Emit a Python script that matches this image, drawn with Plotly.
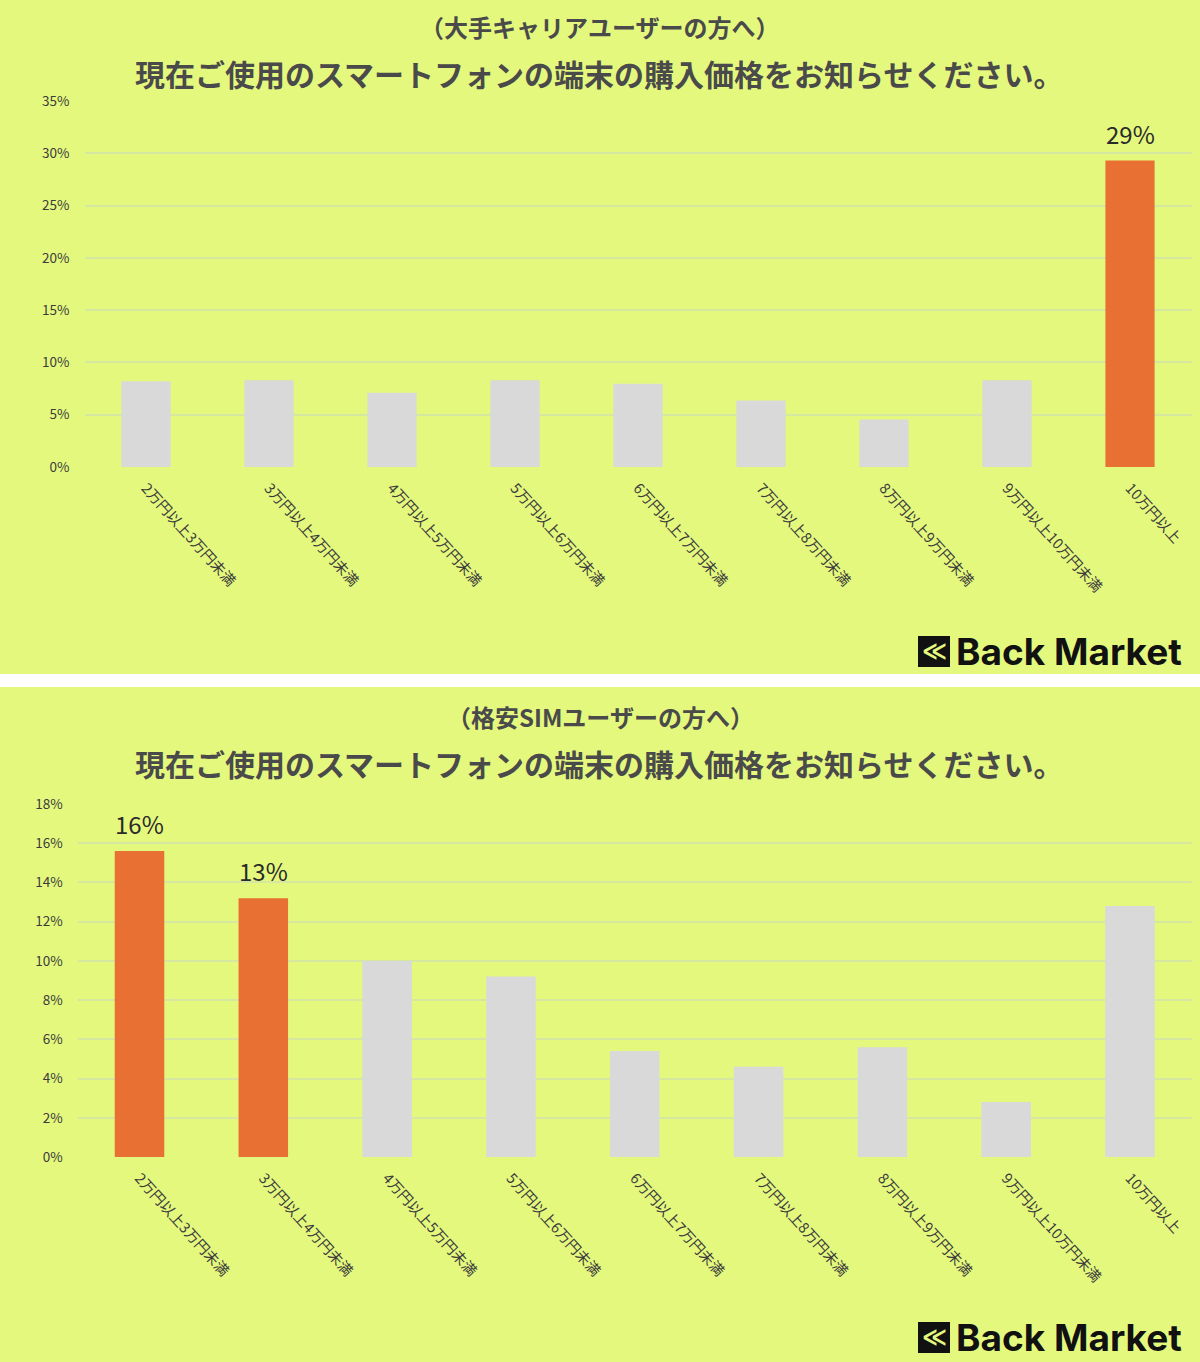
import plotly.graph_objects as go

categories = ["2万円以上3万円未満", "3万円以上4万円未満", "4万円以上5万円未満", "5万円以上6万円未満",
              "6万円以上7万円未満", "7万円以上8万円未満", "8万円以上9万円未満", "9万円以上10万円未満", "10万円以上"]
carrier_values = [8.2, 8.3, 7.1, 8.3, 7.95, 6.35, 4.55, 8.3, 29.3]
carrier_highlight = [False, False, False, False, False, False, False, False, True]
mvno_values = [15.6, 13.2, 10.0, 9.2, 5.4, 4.6, 5.6, 2.8, 12.8]
mvno_highlight = [True, True, False, False, False, False, False, False, False]

top_subtitle = "（大手キャリアユーザーの方へ）"
bottom_subtitle = "（格安SIMユーザーの方へ）"
main_title = "現在ご使用のスマートフォンの端末の購入価格をお知らせください。"
logo_text = "Back Market"

W, H = 1200, 1362
LIME = "#E4F87E"
ORANGE = "#E97033"
GRAY = "#D9D9D9"
GRID = "#D6E7A2"
TEXT = "#3C3C3C"
FONT = "Noto Sans CJK JP"

def py(y):
    return 1 - y / H

def px(x):
    return x / W

fig = go.Figure()
ann = []

def add_bars(values, highlight, xa, ya):
    colors = [ORANGE if h else GRAY for h in highlight]
    fig.add_trace(go.Bar(
        x=categories, y=values, marker=dict(color=colors, line=dict(width=0)),
        xaxis=xa, yaxis=ya, showlegend=False, hoverinfo="skip",
    ))
    for c, v, h in zip(categories, values, highlight):
        if h:
            ann.append(dict(text=f"{round(v)}%", x=c, y=v, xref=xa, yref=ya,
                            showarrow=False, xanchor="center", yanchor="bottom", yshift=8,
                            font=dict(family=FONT, size=24, color="#2A2A2A")))

add_bars(carrier_values, carrier_highlight, "x", "y")
add_bars(mvno_values, mvno_highlight, "x2", "y2")

xcommon = dict(type="category", showgrid=False, zeroline=False, showline=False,
               tickangle=48, automargin=False, ticks="", ticklabelstandoff=9,
               tickfont=dict(family=FONT, size=14.5, color=TEXT))
ycommon = dict(showgrid=True, gridcolor=GRID, gridwidth=1.5, zeroline=False, showline=False,
               ticksuffix="%", automargin=False, ticks="", ticklabelstandoff=14,
               tickfont=dict(family=FONT, size=13.5, color=TEXT))

fig.update_layout(
    width=W, height=H,
    margin=dict(l=0, r=0, t=0, b=0),
    paper_bgcolor=LIME, plot_bgcolor="rgba(0,0,0,0)",
    bargap=0.6,
    template="none",
    xaxis=dict(domain=[px(84.5), px(1191.5)], anchor="y", **xcommon),
    yaxis=dict(domain=[py(467), py(101)], range=[0, 35], dtick=5, anchor="x", **ycommon),
    xaxis2=dict(domain=[px(77.6), px(1191.9)], anchor="y2", **xcommon),
    yaxis2=dict(domain=[py(1157), py(804)], range=[0, 18], dtick=2, anchor="x2", **ycommon),
)

shapes = [
    dict(type="rect", xref="paper", yref="paper", x0=0, x1=1, y0=py(687), y1=py(674),
         fillcolor="white", line=dict(width=0), layer="above"),
]
for (x0, y0) in [(918, 636), (918, 1322)]:
    shapes.append(dict(type="rect", xref="paper", yref="paper", x0=px(x0), x1=px(x0 + 32),
                       y0=py(y0 + 31), y1=py(y0), fillcolor="#111111", line=dict(width=0)))
fig.update_layout(shapes=shapes)

for sub, ysub, ymain in [(top_subtitle, 26, 73), (bottom_subtitle, 716, 763)]:
    ann.append(dict(text=f"<b>{sub}</b>", x=0.5, y=py(ysub), xref="paper", yref="paper",
                    showarrow=False, xanchor="center", yanchor="middle",
                    font=dict(family=FONT, size=24, color="#4A4A4A")))
    ann.append(dict(text=f"<b>{main_title}</b>", x=px(599), y=py(ymain), xref="paper", yref="paper",
                    showarrow=False, xanchor="center", yanchor="middle",
                    font=dict(family=FONT, size=30, color="#4A4A4A")))
for ylogo in [651, 1337]:
    ann.append(dict(text="<b>≪</b>", x=px(934), y=py(ylogo), xref="paper", yref="paper",
                    showarrow=False, xanchor="center", yanchor="middle",
                    font=dict(family="DejaVu Sans", size=24, color=LIME)))
    ann.append(dict(text=f"<b>{logo_text}</b>", x=px(1184), y=py(ylogo), xref="paper", yref="paper",
                    showarrow=False, xanchor="right", yanchor="middle",
                    font=dict(family="Inter", size=37, color="#111111")))
fig.update_layout(annotations=ann)

fig.write_html("out.html", config={"displayModeBar": False},
               post_script="document.body.style.margin='0px';")
